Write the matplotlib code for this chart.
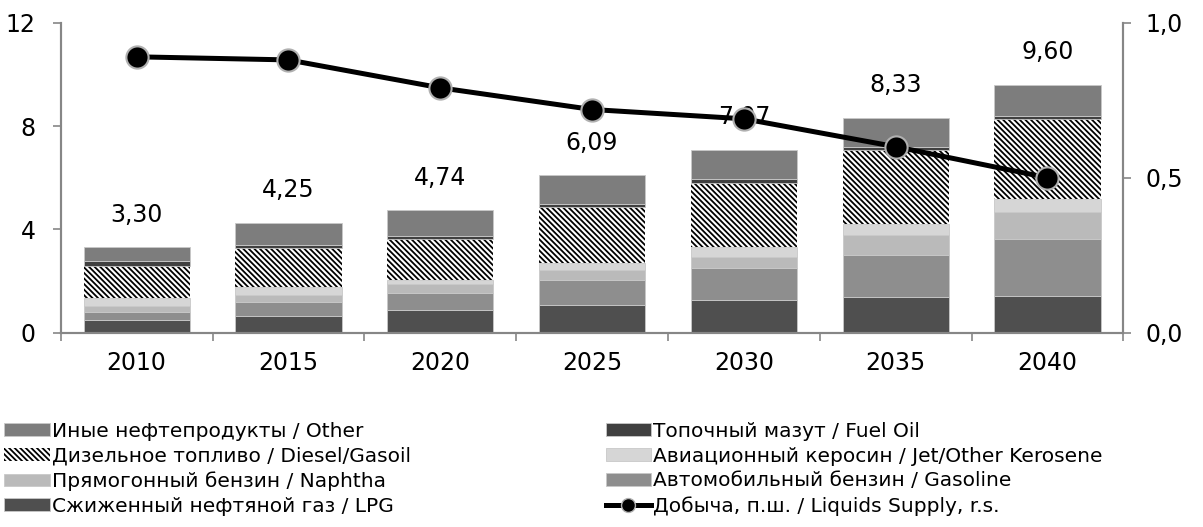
"""Oil products demand by type (stacked bars) and liquids supply (line, r.s.)."""
import numpy as np
import matplotlib.pyplot as plt
from matplotlib.lines import Line2D

plt.rcParams["font.family"] = ["DejaVu Sans"]
plt.rcParams["hatch.linewidth"] = 1.3

years = ["2010", "2015", "2020", "2025", "2030", "2035", "2040"]

lpg = [0.49, 0.63, 0.88, 1.08, 1.27, 1.37, 1.42]
gasoline = [0.30, 0.54, 0.67, 0.96, 1.24, 1.63, 2.22]
naphtha = [0.24, 0.30, 0.33, 0.38, 0.42, 0.77, 1.02]
jet = [0.32, 0.28, 0.15, 0.28, 0.38, 0.45, 0.52]
diesel = [1.22, 1.52, 1.60, 2.15, 2.50, 2.84, 3.08]
fuel_oil = [0.19, 0.14, 0.13, 0.15, 0.13, 0.13, 0.13]
other = [0.54, 0.84, 0.98, 1.09, 1.13, 1.14, 1.21]

totals = [3.30, 4.25, 4.74, 6.09, 7.07, 8.33, 9.60]
supply = [0.89, 0.88, 0.79, 0.72, 0.69, 0.60, 0.50]

series = [
    ("Сжиженный нефтяной газ / LPG", lpg, "#4f4f4f", None),
    ("Автомобильный бензин / Gasoline", gasoline, "#8e8e8e", None),
    ("Прямогонный бензин / Naphtha", naphtha, "#bababa", None),
    ("Авиационный керосин / Jet/Other Kerosene", jet, "#d6d6d6", None),
    ("Дизельное топливо / Diesel/Gasoil", diesel, "white", "\\" * 6),
    ("Топочный мазут / Fuel Oil", fuel_oil, "#404040", None),
    ("Иные нефтепродукты / Other", other, "#7d7d7d", None),
]

axis_grey = "#868686"

fig = plt.figure(figsize=(12.03, 5.27), dpi=100)
ax = fig.add_axes([0.0505, 0.3687, 0.8833, 0.5882])
ax2 = ax.twinx()

x = np.arange(len(years))
bottom = np.zeros(len(years))
handles = {}
for label, vals, color, hatch in series:
    if hatch:
        bars = ax.bar(x, vals, 0.7, bottom=bottom, color=color, hatch=hatch,
                      edgecolor="black", linewidth=0, label=label)
    else:
        bars = ax.bar(x, vals, 0.7, bottom=bottom, color=color,
                      edgecolor="#c8c8c8", linewidth=0.6, label=label)
    handles[label] = bars
    bottom += np.array(vals)

for xi, t in zip(x, totals):
    ax.annotate(f"{t:.2f}".replace(".", ","), (xi, t), xytext=(0, 23.5),
                textcoords="offset points", ha="center", va="center", fontsize=17)

ax2.plot(x, supply, color="black", linewidth=3.6, marker="o", markersize=16,
         markerfacecolor="black", markeredgecolor="#b0b0b0", markeredgewidth=1.5)

ax.set_xlim(-0.5, len(years) - 0.5)
ax.set_ylim(0, 12)
ax.set_yticks([0, 4, 8, 12])
ax2.set_ylim(0, 1.0)
ax2.set_yticks([0, 0.5, 1.0])
ax2.set_yticklabels(["0,0", "0,5", "1,0"])

ax.set_xticks(x)
ax.set_xticklabels(years)
ax.set_xticks(np.arange(-0.5, len(years)), minor=True)
ax.tick_params(axis="x", which="major", length=0, pad=13, labelsize=17)
ax.tick_params(axis="x", which="minor", length=6, width=1.2, color=axis_grey)
ax.tick_params(axis="y", length=6, width=1.2, color=axis_grey, pad=12, labelsize=17)
ax2.tick_params(axis="y", length=6, width=1.2, color=axis_grey, pad=10, labelsize=17)

for a in (ax, ax2):
    a.spines["top"].set_visible(False)
    for s in ("left", "right", "bottom"):
        a.spines[s].set_color(axis_grey)
        a.spines[s].set_linewidth(1.5)

line_handle = Line2D([], [], color="black", linewidth=3.6, marker="o", markersize=10,
                     markerfacecolor="black", markeredgecolor="#b0b0b0")

order = [
    "Иные нефтепродукты / Other",
    "Дизельное топливо / Diesel/Gasoil",
    "Прямогонный бензин / Naphtha",
    "Сжиженный нефтяной газ / LPG",
    "Топочный мазут / Fuel Oil",
    "Авиационный керосин / Jet/Other Kerosene",
    "Автомобильный бензин / Gasoline",
]
leg_handles = [handles[k] for k in order] + [line_handle]
leg_labels = order + ["Добыча, п.ш. / Liquids Supply, r.s."]

fig.legend(leg_handles, leg_labels, ncol=2, loc="upper left",
           bbox_to_anchor=(-0.003, 0.215), frameon=False, fontsize=14.5,
           handlelength=2.24, handleheight=0.6, handletextpad=0.1,
           labelspacing=0.29, columnspacing=9.7, borderaxespad=0)

fig.savefig("out.png", dpi=100)
